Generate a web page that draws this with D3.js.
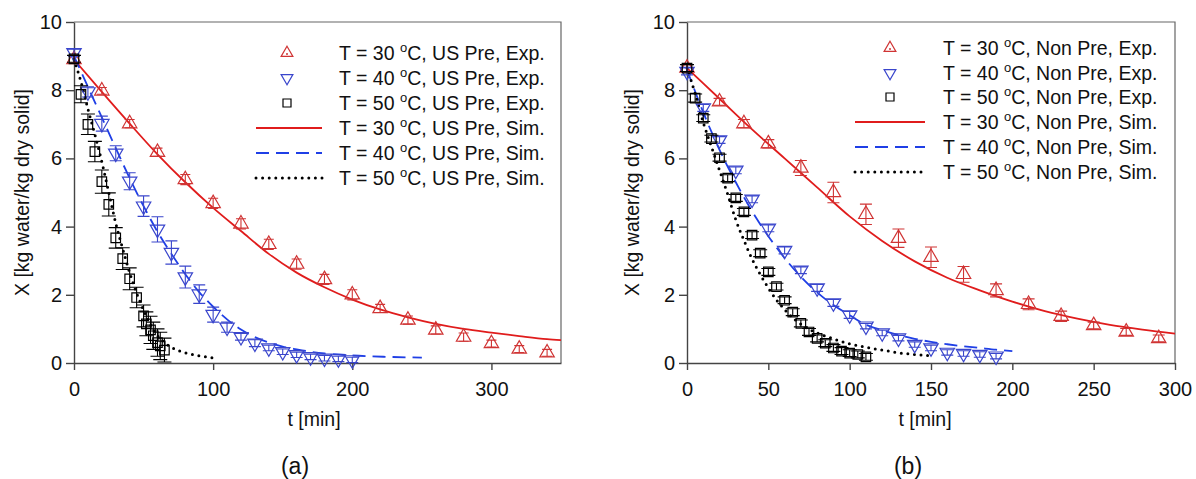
<!DOCTYPE html>
<html>
<head>
<meta charset="utf-8">
<style>
  body { margin: 0; background: #fff; }
  svg text { font-family: "Liberation Sans", Arial, sans-serif; fill: #111; }
</style>
</head>
<body>
<script src="https://d3js.org/d3.v7.min.js"></script>
<script>
// ---- panel (a): US pretreated ----
const a30ExpT = [0, 20, 40, 60, 80, 100, 120, 140, 160, 180, 200, 220, 240, 260, 280, 300, 320, 340];
const a30ExpX = [8.9, 7.98, 7.02, 6.18, 5.38, 4.68, 4.08, 3.48, 2.9, 2.45, 2.0, 1.6, 1.26, 0.97, 0.76, 0.57, 0.41, 0.3];
const a30ExpErr = [0.1, 0.1, 0.12, 0.12, 0.15, 0.15, 0.15, 0.15, 0.15, 0.15, 0.15, 0.12, 0.12, 0.12, 0.12, 0.1, 0.1, 0.1];

const a40ExpT = [0, 10, 20, 30, 40, 50, 60, 70, 80, 90, 100, 110, 120, 130, 140, 150, 160, 170, 180, 190, 200];
const a40ExpX = [9.1, 7.95, 7.02, 6.15, 5.33, 4.6, 3.92, 3.24, 2.52, 2.02, 1.42, 1.05, 0.77, 0.58, 0.44, 0.33, 0.24, 0.18, 0.14, 0.12, 0.09];
const a40ExpErr = [0.1, 0.15, 0.22, 0.22, 0.25, 0.3, 0.37, 0.34, 0.32, 0.27, 0.22, 0.15, 0.1, 0.1, 0.08, 0.08, 0.08, 0.08, 0.08, 0.08, 0.08];

const a50ExpT = [0, 5, 10, 15, 20, 25, 30, 35, 40, 45, 50, 52, 55, 57, 60, 62, 65];
const a50ExpX = [8.92, 7.88, 7.0, 6.2, 5.32, 4.65, 3.67, 3.06, 2.47, 1.92, 1.38, 1.15, 0.97, 0.8, 0.6, 0.5, 0.38];
const a50ExpErr = [0.1, 0.25, 0.3, 0.3, 0.34, 0.34, 0.3, 0.32, 0.32, 0.3, 0.32, 0.35, 0.4, 0.4, 0.4, 0.4, 0.35];

const a30SimT = [0, 20, 40, 60, 80, 100, 120, 140, 160, 180, 200, 220, 240, 260, 280, 300, 320, 340, 350];
const a30SimX = [8.9, 7.95, 7.02, 6.12, 5.3, 4.55, 3.87, 3.2, 2.65, 2.22, 1.86, 1.57, 1.34, 1.15, 1.0, 0.89, 0.79, 0.7, 0.67];

const a40SimT = [0, 10, 20, 30, 40, 50, 60, 70, 80, 90, 100, 110, 120, 130, 140, 150, 160, 170, 180, 190, 200, 225, 250];
const a40SimX = [9.0, 8.1, 7.2, 6.3, 5.42, 4.6, 3.85, 3.2, 2.6, 2.08, 1.65, 1.28, 0.98, 0.76, 0.6, 0.48, 0.4, 0.33, 0.28, 0.25, 0.22, 0.18, 0.16];

const a50SimT = [0, 5, 10, 15, 20, 25, 30, 35, 40, 45, 50, 55, 60, 65, 70, 80, 90, 100];
const a50SimX = [8.9, 8.25, 7.45, 6.7, 5.9, 5.0, 4.1, 3.35, 2.65, 2.05, 1.55, 1.12, 0.8, 0.6, 0.46, 0.3, 0.21, 0.15];

// ---- panel (b): non pretreated ----
const b30ExpT = [0, 20, 35, 50, 70, 90, 110, 130, 150, 170, 190, 210, 230, 250, 270, 290];
const b30ExpX = [8.65, 7.66, 7.02, 6.43, 5.72, 5.0, 4.36, 3.66, 3.1, 2.6, 2.13, 1.72, 1.37, 1.1, 0.91, 0.72];
const b30ExpErr = [0.1, 0.1, 0.12, 0.12, 0.22, 0.3, 0.3, 0.27, 0.3, 0.23, 0.19, 0.16, 0.15, 0.1, 0.1, 0.1];

const b40ExpT = [0, 10, 20, 30, 40, 50, 60, 70, 80, 90, 100, 110, 120, 130, 140, 150, 160, 170, 180, 190];
const b40ExpX = [8.55, 7.48, 6.54, 5.65, 4.8, 3.95, 3.3, 2.72, 2.2, 1.76, 1.41, 1.08, 0.88, 0.73, 0.54, 0.44, 0.31, 0.28, 0.25, 0.2];
const b40ExpErr = [0.1, 0.1, 0.1, 0.1, 0.1, 0.1, 0.1, 0.1, 0.1, 0.1, 0.1, 0.08, 0.08, 0.08, 0.08, 0.08, 0.08, 0.08, 0.08, 0.08];

const b50ExpT = [0, 5, 10, 15, 20, 25, 30, 35, 40, 45, 50, 55, 60, 65, 70, 75, 80, 85, 90, 95, 100, 105, 110];
const b50ExpX = [8.65, 7.77, 7.18, 6.58, 6.02, 5.42, 4.84, 4.43, 3.75, 3.22, 2.67, 2.24, 1.84, 1.49, 1.16, 0.91, 0.72, 0.58, 0.44, 0.35, 0.29, 0.25, 0.18];
const b50ExpErr = [0.1, 0.12, 0.1, 0.1, 0.1, 0.1, 0.1, 0.1, 0.1, 0.1, 0.1, 0.1, 0.1, 0.1, 0.1, 0.1, 0.1, 0.1, 0.1, 0.1, 0.1, 0.1, 0.1];

const b30SimT = [0, 20, 40, 60, 80, 100, 120, 140, 160, 180, 200, 220, 240, 260, 280, 300];
const b30SimX = [8.65, 7.75, 6.85, 6.0, 5.15, 4.3, 3.58, 2.98, 2.5, 2.13, 1.8, 1.52, 1.3, 1.12, 0.98, 0.86];

const b40SimT = [0, 10, 20, 30, 40, 50, 60, 70, 80, 90, 100, 110, 120, 130, 140, 150, 160, 170, 180, 190, 200];
const b40SimX = [8.6, 7.35, 6.25, 5.3, 4.45, 3.72, 3.08, 2.53, 2.07, 1.7, 1.4, 1.12, 0.96, 0.82, 0.71, 0.62, 0.55, 0.49, 0.44, 0.39, 0.35];

const b50SimT = [0, 5, 10, 15, 20, 25, 30, 35, 40, 45, 50, 55, 60, 65, 70, 75, 80, 90, 100, 110, 120, 130, 140, 150];
const b50SimX = [8.65, 7.9, 7.05, 6.35, 5.65, 4.95, 4.2, 3.6, 3.05, 2.6, 2.2, 1.85, 1.57, 1.33, 1.14, 0.99, 0.88, 0.71, 0.56, 0.46, 0.38, 0.3, 0.25, 0.21];

const yTicks = [0, 2, 4, 6, 8, 10];
const aXTicks = [0, 100, 200, 300];
const bXTicks = [0, 50, 100, 150, 200, 250, 300];

const aLegend = [
  ['T = 30 ', 'C, US Pre, Exp.'], ['T = 40 ', 'C, US Pre, Exp.'], ['T = 50 ', 'C, US Pre, Exp.'],
  ['T = 30 ', 'C, US Pre, Sim.'], ['T = 40 ', 'C, US Pre, Sim.'], ['T = 50 ', 'C, US Pre, Sim.']
];
const bLegend = [
  ['T = 30 ', 'C, Non Pre, Exp.'], ['T = 40 ', 'C, Non Pre, Exp.'], ['T = 50 ', 'C, Non Pre, Exp.'],
  ['T = 30 ', 'C, Non Pre, Sim.'], ['T = 40 ', 'C, Non Pre, Sim.'], ['T = 50 ', 'C, Non Pre, Sim.']
];

const RED = '#e01c1c', REDM = '#d03434';
const BLUE = '#1f3fe6', BLUEM = '#3a46cc';
const BLACK = '#000';
const FS = 19.5;

const svg = d3.select('body').append('svg')
  .attr('width', 1196)
  .attr('height', 479);

const zip = (t, v, e) => t.map((d, i) => ({ t: d, v: v[i], e: e ? e[i] : 0 }));

const triUp = d3.symbol(d3.symbolTriangle, 90)();
const square = d3.symbol(d3.symbolSquare, 90)();
const triUpLeg = d3.symbol(d3.symbolTriangle, 60)();
const squareLeg = d3.symbol(d3.symbolSquare, 64)();

function drawPanel(cfg) {
  const x = d3.scaleLinear().domain([0, cfg.xMax]).range([cfg.x0, cfg.x1]);
  const y = d3.scaleLinear().domain([0, 10]).range([363, 22]);
  const g = svg.append('g');

  // frame (top / right)
  g.append('path')
    .attr('d', `M${cfg.x0},${y(10)}H${cfg.x1}V${y(0)}`)
    .attr('fill', 'none').attr('stroke', '#666').attr('stroke-width', 1.2);

  const yAxis = g.append('g')
    .attr('transform', `translate(${cfg.x0},0)`)
    .call(d3.axisLeft(y).tickValues(yTicks).tickSize(8).tickSizeOuter(0).tickPadding(4));
  const xAxis = g.append('g')
    .attr('transform', `translate(0,${y(0)})`)
    .call(d3.axisBottom(x).tickValues(cfg.xTicks).tickSize(7).tickSizeOuter(0).tickPadding(12));
  [yAxis, xAxis].forEach(a => {
    a.selectAll('path, line').attr('stroke', '#444').attr('stroke-width', 1.4);
    a.selectAll('text').attr('font-size', 20).attr('fill', '#111')
      .style('font-family', '"Liberation Sans", Arial, sans-serif');
  });

  // simulation lines
  const line = d3.line().x(d => x(d.t)).y(d => y(d.v)).curve(d3.curveMonotoneX);
  cfg.sims.forEach(s => {
    g.append('path')
      .datum(zip(s.t, s.v))
      .attr('d', line)
      .attr('fill', 'none')
      .attr('stroke', s.color)
      .attr('stroke-width', s.width)
      .attr('stroke-dasharray', s.dash)
      .attr('stroke-linecap', s.cap);
  });

  // experimental points with error bars
  cfg.exp.forEach(s => {
    const pts = g.append('g').selectAll('g').data(zip(s.t, s.v, s.e)).join('g');
    pts.append('path')
      .attr('d', d => `M${x(d.t)},${y(d.v - d.e)}V${y(d.v + d.e)}` +
        `M${x(d.t) - s.cap},${y(d.v + d.e)}h${2 * s.cap}` +
        `M${x(d.t) - s.cap},${y(d.v - d.e)}h${2 * s.cap}`)
      .attr('stroke', s.color).attr('stroke-width', 1.1).attr('fill', 'none');
    pts.append('path')
      .attr('d', s.shape)
      .attr('transform', d => `translate(${x(d.t)},${y(d.v)})${s.rot ? ' rotate(180)' : ''}`)
      .attr('fill', 'none').attr('stroke', s.color).attr('stroke-width', 1.2);
  });

  // legend
  const leg = g.append('g');
  cfg.legend.forEach((lab, i) => {
    const cy = cfg.legRows[i];
    const t = leg.append('text')
      .attr('x', cfg.legTextX).attr('y', cy + 7)
      .attr('font-size', FS);
    t.append('tspan').text(lab[0]);
    t.append('tspan').attr('font-size', 13).attr('dy', -8).text('o');
    t.append('tspan').attr('dy', 8).text(lab[1]);
    if (i < 3) {
      const s = cfg.exp[i];
      leg.append('path')
        .attr('d', i === 2 ? squareLeg : triUpLeg)
        .attr('transform', `translate(${cfg.legSymX},${cy})${s.rot ? ' rotate(180)' : ''}`)
        .attr('fill', 'none').attr('stroke', s.color).attr('stroke-width', 1.2);
      if (i === 0) {
        leg.append('circle').attr('cx', cfg.legSymX).attr('cy', cy + 1).attr('r', 1).attr('fill', s.color);
      }
    } else {
      const s = cfg.sims[i - 3];
      leg.append('line')
        .attr('x1', cfg.legLine[0]).attr('x2', cfg.legLine[1])
        .attr('y1', cy).attr('y2', cy)
        .attr('stroke', s.color).attr('stroke-width', s.width)
        .attr('stroke-dasharray', s.dash).attr('stroke-linecap', s.cap);
    }
  });

  // axis titles
  g.append('text')
    .attr('transform', `translate(${cfg.yLabX},${(y(0) + y(10)) / 2}) rotate(-90)`)
    .attr('text-anchor', 'middle').attr('dy', '0.35em')
    .attr('font-size', FS)
    .text('X [kg water/kg dry solid]');
  g.append('text')
    .attr('x', cfg.tLabX).attr('y', 426)
    .attr('text-anchor', 'middle').attr('font-size', FS)
    .text('t [min]');
  g.append('text')
    .attr('x', cfg.tagX).attr('y', 474)
    .attr('text-anchor', 'middle').attr('font-size', 23)
    .text(cfg.tag);
}

const simStyles = [
  { color: RED, width: 1.8, dash: null, cap: 'butt' },
  { color: BLUE, width: 1.8, dash: '13,7', cap: 'butt' },
  { color: BLACK, width: 3, dash: '0,6.6', cap: 'round' }
];

drawPanel({
  x0: 74, x1: 561, xMax: 350, xTicks: aXTicks,
  exp: [
    { t: a30ExpT, v: a30ExpX, e: a30ExpErr, color: REDM, shape: triUp, rot: false, cap: 5 },
    { t: a40ExpT, v: a40ExpX, e: a40ExpErr, color: BLUEM, shape: triUp, rot: true, cap: 6 },
    { t: a50ExpT, v: a50ExpX, e: a50ExpErr, color: BLACK, shape: square, rot: false, cap: 7 }
  ],
  sims: [
    Object.assign({ t: a30SimT, v: a30SimX }, simStyles[0]),
    Object.assign({ t: a40SimT, v: a40SimX }, simStyles[1]),
    Object.assign({ t: a50SimT, v: a50SimX }, simStyles[2])
  ],
  legend: aLegend, legRows: [53, 78, 103, 128, 153, 178],
  legSymX: 287, legLine: [256, 322], legTextX: 339,
  yLabX: 22, tLabX: 314, tagX: 295, tag: '(a)'
});

drawPanel({
  x0: 687, x1: 1175, xMax: 300, xTicks: bXTicks,
  exp: [
    { t: b30ExpT, v: b30ExpX, e: b30ExpErr, color: REDM, shape: triUp, rot: false, cap: 6 },
    { t: b40ExpT, v: b40ExpX, e: b40ExpErr, color: BLUEM, shape: triUp, rot: true, cap: 6 },
    { t: b50ExpT, v: b50ExpX, e: b50ExpErr, color: BLACK, shape: square, rot: false, cap: 7 }
  ],
  sims: [
    Object.assign({ t: b30SimT, v: b30SimX }, simStyles[0]),
    Object.assign({ t: b40SimT, v: b40SimX }, simStyles[1]),
    Object.assign({ t: b50SimT, v: b50SimX }, simStyles[2])
  ],
  legend: bLegend, legRows: [48, 73, 97, 122, 147, 172],
  legSymX: 890, legLine: [855, 925], legTextX: 943,
  yLabX: 632, tLabX: 925, tagX: 908, tag: '(b)'
});
</script>
</body>
</html>
